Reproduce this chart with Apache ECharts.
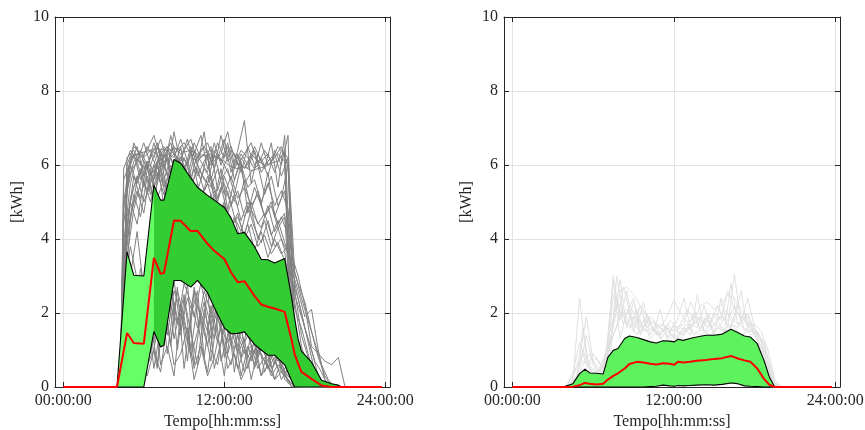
<!DOCTYPE html>
<html><head><meta charset="utf-8">
<script src="https://cdn.jsdelivr.net/npm/echarts@6/dist/echarts.min.js"></script>
<style>html,body{margin:0;padding:0;background:#fff}#c{width:865px;height:430px}</style>
</head><body><div id="c"></div>
<script>
// ---------- tick labels ----------
const xTickValues = [0, 12, 24];
const xTickLabels = ['00:00:00', '12:00:00', '24:00:00'];
const xName = 'Tempo[hh:mm:ss]';
const yName = '[kWh]';

// ---------- LEFT panel: individual days (grey) ----------
const gridA = [4.25, 4.5, 5, 5.5, 6, 6.5, 7, 7.5, 8, 8.5, 9, 9.5, 10, 10.5, 11, 11.5, 12, 12.5, 13, 13.5, 14, 14.5, 15, 15.5, 16, 16.5, 17, 17.5, 18, 18.5, 19, 19.5, 20, 20.5, 21];
const gridB = [4.35, 4.75, 5.25, 5.75, 6.25, 6.75, 7.25, 7.75, 8.25, 8.75, 9.25, 9.75, 10.25, 10.75, 11.25, 11.75, 12.25, 12.75, 13.25, 13.75, 14.25, 14.75, 15.25, 15.75, 16.25, 16.75, 17.25, 17.75, 18.25, 18.75, 19.25, 19.75, 20.25, 20.75];

const dayA1 = [0, 5.6, 6.1, 6.3, 6.2, 6.4, 6.3, 6.5, 6.2, 6.4, 6.6, 6.3, 6.2, 6.5, 6.1, 6.3, 6.0, 6.4, 6.2, 5.9, 6.3, 6.1, 6.0, 6.2, 6.3, 6.1, 0.8, 0, 0, 0, 0, 0, 0, 0, 0];
const dayA2 = [0, 4.8, 6.0, 6.5, 5.7, 6.2, 6.6, 5.9, 6.8, 6.1, 5.8, 6.5, 6.0, 6.9, 5.6, 6.2, 6.7, 5.8, 6.4, 7.2, 5.5, 6.3, 5.9, 6.6, 5.4, 6.8, 2.5, 0.4, 0, 0, 0, 0, 0, 0, 0];
const dayA3 = [0, 3.9, 5.5, 6.2, 5.9, 6.0, 5.6, 6.3, 5.8, 5.5, 6.2, 5.7, 5.3, 5.9, 5.6, 5.0, 5.7, 5.2, 4.9, 5.6, 4.8, 5.3, 4.6, 5.0, 4.4, 4.7, 1.5, 0.9, 0.3, 0, 0, 0, 0, 0, 0];
const dayA4 = [0, 3.2, 5.0, 4.4, 5.6, 5.0, 5.8, 5.2, 6.0, 5.4, 5.9, 5.0, 5.5, 4.8, 5.2, 4.6, 5.0, 4.3, 4.7, 4.0, 4.4, 3.8, 4.1, 3.6, 3.9, 3.4, 2.2, 1.2, 0.5, 0.1, 0, 0, 0, 0, 0];
const dayA5 = [0, 1.2, 2.5, 1.0, 0.4, 1.8, 0.6, 2.4, 1.1, 2.7, 0.5, 1.9, 2.6, 0.8, 2.2, 1.4, 0.3, 1.6, 0.9, 1.3, 0.2, 1.0, 0.7, 0.4, 0.9, 0.2, 0.1, 0, 0, 0, 0, 0, 0, 0, 0];
const dayA6 = [0, 0.5, 1.0, 2.0, 1.5, 0.9, 2.3, 1.2, 2.8, 1.7, 2.5, 1.0, 2.2, 1.6, 0.7, 1.9, 1.1, 0.6, 1.4, 0.9, 1.1, 0.5, 0.8, 0.3, 0.6, 0.4, 0, 0, 0, 0, 0, 0, 0, 0, 0];
const dayA7 = [0, 2.0, 4.5, 5.6, 6.0, 5.2, 6.1, 4.9, 5.8, 6.2, 5.5, 6.4, 5.7, 6.1, 6.5, 5.3, 6.0, 5.6, 6.3, 5.5, 5.8, 6.0, 5.2, 5.7, 4.9, 5.3, 3.6, 3.0, 2.2, 1.1, 0.9, 0.7, 0.6, 0.8, 0];
const dayA8 = [0, 5.0, 6.2, 6.3, 6.35, 6.4, 6.45, 6.4, 6.4, 6.45, 6.35, 6.4, 6.3, 6.25, 6.3, 6.2, 6.1, 5.95, 5.9, 5.95, 5.85, 5.9, 5.95, 6.05, 6.1, 6.35, 0.4, 0, 0, 0, 0, 0, 0, 0, 0];
const dayA9 = [0, 0.8, 3.0, 4.2, 2.6, 1.5, 3.4, 2.0, 1.2, 2.6, 1.9, 0.8, 1.5, 2.3, 1.0, 0.6, 1.8, 1.2, 0.5, 1.0, 0.7, 1.3, 0.4, 0.9, 0.5, 0.3, 0.1, 0, 0, 0, 0, 0, 0, 0, 0];
const dayA10 = [0, 4.4, 6.0, 5.5, 6.1, 5.7, 6.3, 5.6, 6.2, 5.8, 6.0, 5.4, 5.9, 5.3, 5.7, 5.1, 5.5, 4.9, 5.3, 4.6, 5.0, 4.4, 4.7, 4.1, 4.5, 3.9, 3.4, 2.8, 2.3, 1.5, 0.8, 0.3, 0, 0, 0];
const dayA11 = [0, 3.0, 4.6, 5.3, 4.7, 5.9, 5.1, 5.6, 4.8, 5.5, 4.6, 5.2, 4.4, 4.9, 4.1, 4.6, 3.8, 4.2, 3.5, 3.9, 3.2, 3.6, 2.9, 3.3, 2.6, 3.0, 2.9, 2.4, 1.6, 1.0, 0.3, 0, 0, 0, 0];
const dayA12 = [0, 0.9, 1.8, 0.7, 2.2, 1.4, 0.5, 2.0, 2.9, 1.0, 2.4, 1.5, 0.6, 2.1, 1.3, 2.5, 0.8, 1.9, 1.1, 0.4, 1.5, 0.8, 1.2, 0.5, 0.8, 0.3, 0.1, 0, 0, 0, 0, 0, 0, 0, 0];
const dayA13 = [0, 2.5, 3.8, 2.9, 1.6, 2.8, 1.4, 3.0, 2.2, 1.7, 2.8, 2.3, 1.6, 2.6, 2.0, 1.2, 2.1, 1.5, 1.9, 1.2, 1.6, 0.9, 1.3, 1.0, 0.7, 1.0, 0.4, 0.1, 0, 0, 0, 0, 0, 0, 0];
const dayA14 = [0, 5.9, 6.4, 6.1, 6.6, 6.0, 6.5, 6.2, 6.6, 6.0, 6.4, 6.7, 6.1, 6.3, 6.0, 6.6, 6.2, 6.5, 6.0, 6.3, 6.6, 6.0, 6.4, 6.1, 6.5, 6.3, 1.8, 0.3, 0, 0, 0, 0, 0, 0, 0];
const dayA15 = [0, 4.9, 5.8, 6.1, 5.4, 6.3, 5.9, 6.0, 5.5, 6.2, 5.8, 5.3, 6.0, 5.6, 5.4, 5.9, 5.2, 5.7, 5.1, 5.4, 4.9, 5.2, 4.6, 4.9, 4.3, 4.6, 3.2, 2.6, 1.9, 2.1, 1.0, 0.2, 0, 0, 0];
const dayA16 = [0, 3.6, 5.1, 5.7, 5.0, 5.5, 6.0, 5.4, 5.9, 5.1, 5.6, 4.9, 5.4, 4.7, 5.2, 4.5, 4.9, 4.3, 4.6, 4.1, 4.8, 4.0, 4.5, 3.8, 4.3, 3.7, 1.9, 0.7, 0.2, 0, 0, 0, 0, 0, 0];

const dayB1 = [0, 6.2, 6.4, 6.0, 6.5, 6.2, 6.7, 6.1, 6.5, 6.3, 6.0, 6.6, 6.2, 6.4, 5.9, 6.8, 6.1, 6.3, 5.8, 6.5, 6.0, 6.2, 5.7, 6.4, 6.0, 6.8, 0.5, 0, 0, 0, 0, 0, 0, 0];
const dayB2 = [0, 5.8, 6.3, 5.6, 6.1, 5.8, 6.4, 5.7, 6.9, 6.0, 5.5, 6.2, 5.8, 5.5, 6.3, 5.6, 5.9, 5.2, 6.0, 5.4, 5.6, 5.0, 5.5, 4.9, 5.3, 4.8, 2.8, 2.0, 1.2, 0.4, 0, 0, 0, 0];
const dayB3 = [0, 4.6, 5.4, 5.9, 5.2, 6.0, 5.5, 6.2, 5.3, 5.8, 6.1, 5.4, 5.0, 5.7, 5.2, 4.7, 5.3, 4.6, 4.2, 4.9, 4.3, 3.9, 4.5, 3.8, 4.0, 3.6, 2.1, 1.6, 0.9, 0.2, 0, 0, 0, 0];
const dayB4 = [0, 0.6, 1.4, 0.8, 2.1, 0.5, 1.6, 2.9, 1.3, 2.2, 0.7, 2.6, 1.2, 0.4, 1.8, 2.3, 0.9, 1.5, 0.3, 1.1, 0.6, 1.4, 0.5, 0.8, 0.2, 0.5, 0, 0, 0, 0, 0, 0, 0, 0];
const dayB5 = [0, 2.1, 1.5, 3.2, 2.4, 1.2, 2.7, 1.8, 2.9, 1.5, 2.4, 1.9, 2.8, 2.0, 1.3, 2.5, 1.7, 1.0, 1.9, 1.4, 0.9, 1.6, 1.0, 0.6, 1.2, 0.7, 0.2, 0, 0, 0, 0, 0, 0, 0];
const dayB6 = [0, 0.3, 0.9, 0.4, 1.2, 2.4, 0.6, 1.1, 0.3, 2.0, 1.5, 0.2, 0.9, 2.7, 0.5, 1.2, 2.0, 0.4, 1.6, 0.5, 1.3, 0.3, 1.0, 0.2, 0.7, 0.1, 0, 0, 0, 0, 0, 0, 0, 0];
const dayB7 = [0, 5.3, 6.1, 6.4, 6.0, 5.6, 6.3, 6.5, 5.9, 6.2, 5.7, 6.4, 6.1, 5.8, 6.6, 6.0, 6.5, 5.6, 6.2, 5.9, 6.4, 5.8, 6.1, 6.3, 5.7, 6.2, 3.1, 2.4, 1.8, 1.2, 0.6, 0.2, 0, 0];
const dayB8 = [0, 3.5, 4.8, 5.5, 6.0, 4.9, 6.2, 5.3, 5.9, 6.5, 5.1, 6.0, 5.6, 6.3, 5.0, 5.9, 4.8, 5.6, 6.1, 4.7, 5.4, 4.9, 5.8, 4.6, 5.1, 6.0, 2.6, 1.4, 0.8, 0.3, 0, 0, 0, 0];
const dayB9 = [0, 6.0, 6.5, 6.3, 5.9, 6.6, 6.0, 6.4, 6.2, 6.7, 6.1, 6.3, 6.8, 5.9, 6.4, 6.1, 6.6, 5.9, 6.3, 6.0, 6.5, 6.1, 6.3, 5.8, 6.4, 6.2, 1.2, 0, 0, 0, 0, 0, 0, 0];
const dayB10 = [0, 1.1, 0.5, 1.7, 0.8, 1.9, 2.6, 0.9, 2.3, 1.4, 2.8, 0.6, 2.0, 1.5, 2.4, 0.7, 1.4, 2.1, 0.8, 1.7, 0.5, 1.1, 0.7, 1.3, 0.4, 0.6, 0.1, 0, 0, 0, 0, 0, 0, 0];
const dayB11 = [0, 1.6, 2.8, 1.2, 0.6, 1.0, 2.0, 1.4, 2.6, 2.1, 1.2, 2.7, 1.8, 1.1, 2.2, 1.6, 1.2, 1.8, 1.3, 0.8, 1.2, 0.9, 0.5, 1.1, 0.6, 0.3, 0.1, 0, 0, 0, 0, 0, 0, 0];
const dayB12 = [0, 5.5, 6.6, 6.2, 6.4, 6.8, 6.2, 6.5, 6.3, 6.1, 6.7, 6.0, 6.4, 6.6, 6.1, 6.3, 6.9, 6.0, 6.4, 6.2, 5.9, 6.6, 6.0, 6.2, 6.5, 6.0, 0.9, 0, 0, 0, 0, 0, 0, 0];
const dayB13 = [0, 4.0, 5.2, 4.6, 5.7, 5.1, 5.9, 4.8, 5.6, 5.2, 4.7, 5.5, 4.5, 5.1, 4.4, 4.9, 4.1, 4.6, 3.9, 4.4, 3.7, 4.2, 3.5, 4.0, 3.6, 3.8, 2.5, 1.9, 1.3, 0.7, 0.4, 0, 0, 0];
const dayB14 = [0, 0.4, 0.2, 0.7, 0.3, 1.0, 0.4, 1.8, 0.6, 0.9, 1.6, 0.5, 1.1, 0.3, 0.8, 1.7, 0.5, 0.9, 0.2, 0.6, 1.0, 0.3, 0.6, 0.2, 0.4, 0.2, 0, 0, 0, 0, 0, 0, 0, 0];
const dayB15 = [0, 4.3, 5.7, 5.1, 6.1, 5.4, 5.8, 6.3, 5.2, 5.7, 5.3, 5.9, 5.1, 5.5, 4.9, 5.4, 4.7, 5.2, 4.5, 5.0, 4.6, 4.3, 4.9, 4.2, 4.6, 4.1, 2.3, 1.1, 0.5, 0, 0, 0, 0, 0];

// ---------- LEFT panel: band (low / high) and median ----------
const bandT_L = [0, 4.0, 4.75, 5.25, 6.0, 6.75, 7.25, 7.5, 8.25, 8.75, 9.5, 10.0, 10.75, 11.25, 12.0, 12.5, 13.0, 13.5, 14.25, 14.75, 15.25, 15.75, 16.5, 17.0, 17.25, 17.5, 17.75, 18.5, 19.25, 20.0, 20.5, 20.75, 23.75];
const bandHi_L = [0, 0, 3.65, 3.02, 3.0, 5.45, 5.05, 5.05, 6.15, 6.05, 5.65, 5.4, 5.18, 5.05, 4.85, 4.57, 4.14, 4.18, 3.8, 3.45, 3.44, 3.35, 3.47, 2.45, 1.85, 1.3, 0.97, 0.67, 0.18, 0.09, 0.05, 0, 0];
const bandLo_L = [0, 0, 0, 0, 0, 1.5, 1.08, 1.13, 2.88, 2.88, 2.7, 2.88, 2.55, 2.15, 1.6, 1.44, 1.45, 1.49, 1.15, 1.0, 0.86, 0.86, 0.6, 0.18, 0, 0, 0, 0, 0, 0, 0, 0, 0];
const median_L = [0, 0, 1.46, 1.19, 1.17, 3.49, 3.06, 3.08, 4.5, 4.49, 4.21, 4.22, 3.87, 3.68, 3.46, 3.1, 2.83, 2.86, 2.46, 2.23, 2.17, 2.12, 2.03, 1.3, 0.88, 0.63, 0.41, 0.22, 0.04, 0, 0, 0, 0];
const lightSplitTime = 6.75;

// ---------- RIGHT panel: individual days (light grey) ----------
const gridRA = [4, 4.5, 5, 5.5, 6, 6.5, 7, 7.5, 8, 8.5, 9, 9.5, 10, 10.5, 11, 11.5, 12, 12.5, 13, 13.5, 14, 14.5, 15, 15.5, 16, 16.5, 17, 17.5, 18, 18.5, 19, 19.5, 20];
const gridRB = [4.25, 4.75, 5.25, 5.75, 6.25, 6.75, 7.25, 7.75, 8.25, 8.75, 9.25, 9.75, 10.25, 10.75, 11.25, 11.75, 12.25, 12.75, 13.25, 13.75, 14.25, 14.75, 15.25, 15.75, 16.25, 16.75, 17.25, 17.75, 18.25, 18.75, 19.25, 19.75];
const dayR1 = [0, 0.2, 2.4, 0.8, 0.3, 0.5, 1.0, 3.0, 1.8, 2.6, 1.5, 2.2, 1.6, 1.8, 1.4, 1.6, 1.3, 1.5, 1.7, 1.4, 1.6, 1.9, 1.5, 1.7, 2.0, 1.6, 1.4, 1.5, 1.5, 1.3, 0.8, 0.1, 0];
const dayR2 = [0, 0, 0.1, 0.3, 0.4, 0.3, 0.9, 1.6, 2.6, 2.7, 2.5, 2.2, 1.9, 1.7, 1.6, 1.9, 2.35, 2.0, 1.75, 1.85, 2.2, 2.3, 2.1, 2.2, 2.5, 2.4, 2.1, 1.9, 1.6, 1.2, 0.5, 0, 0];
const dayR3 = [0, 0.4, 1.2, 0.6, 0.5, 0.4, 0.8, 2.9, 1.3, 2.0, 2.4, 1.4, 1.9, 1.5, 2.1, 1.3, 1.7, 1.4, 1.6, 2.0, 1.5, 1.8, 1.4, 2.4, 1.6, 3.05, 1.7, 2.0, 1.4, 1.1, 0.4, 0, 0];
const dayR4 = [0, 0.1, 0.5, 1.4, 0.6, 0.4, 0.5, 1.8, 2.9, 1.6, 2.3, 1.7, 1.5, 1.6, 1.3, 1.5, 1.4, 1.3, 1.6, 1.5, 1.4, 1.5, 1.7, 1.6, 1.5, 1.8, 2.6, 1.5, 1.6, 0.9, 0.3, 0, 0];
const dayR8 = [0, 0.3, 0.8, 1.9, 0.7, 0.5, 0.6, 2.5, 2.2, 1.7, 1.9, 1.6, 2.0, 1.5, 1.7, 1.6, 1.5, 1.7, 2.1, 1.8, 1.6, 2.0, 1.7, 1.9, 1.8, 2.2, 1.8, 2.4, 1.6, 1.3, 0.6, 0.1, 0];
const dayR10 = [0, 0.1, 0.4, 0.5, 0.9, 0.6, 0.7, 1.4, 1.9, 2.1, 1.7, 1.5, 1.8, 1.6, 1.4, 1.7, 1.5, 1.6, 1.5, 1.7, 1.9, 1.6, 2.0, 1.8, 2.6, 2.1, 1.9, 1.7, 1.7, 1.5, 1.0, 0.2, 0];
const dayR5 = [0, 0.3, 1.0, 0.5, 0.4, 0.6, 1.5, 2.2, 1.9, 1.6, 2.1, 1.5, 1.7, 1.4, 1.6, 1.5, 1.8, 2.4, 1.6, 1.9, 1.5, 1.7, 2.2, 1.8, 1.6, 2.3, 1.5, 1.7, 1.3, 0.7, 0.1, 0];
const dayR6 = [0, 0.1, 1.6, 0.4, 0.3, 0.5, 0.7, 3.0, 2.0, 1.7, 1.4, 1.8, 1.3, 1.5, 1.2, 1.4, 1.3, 1.6, 1.4, 2.5, 1.5, 1.4, 1.6, 1.5, 2.8, 1.7, 1.6, 1.4, 1.5, 1.0, 0.2, 0];
const dayR7 = [0, 0.2, 0.6, 0.9, 0.5, 0.4, 1.2, 1.6, 2.7, 2.0, 1.6, 2.3, 1.4, 1.7, 1.5, 1.3, 1.5, 1.4, 1.7, 1.6, 2.2, 1.6, 1.8, 1.5, 1.7, 1.6, 2.0, 1.6, 1.2, 0.6, 0, 0];
const dayR9 = [0, 0.5, 0.7, 0.6, 0.8, 0.5, 1.1, 2.4, 1.7, 2.2, 1.8, 1.6, 1.9, 1.7, 1.5, 1.8, 1.6, 1.7, 2.3, 1.9, 1.7, 2.0, 1.8, 2.1, 1.9, 1.7, 1.9, 1.5, 1.4, 1.2, 0.3, 0];

// ---------- RIGHT panel: band and median ----------
const bandT_R = [0, 3.75, 4.5, 5.0, 5.4, 5.75, 6.25, 6.75, 7.1, 7.5, 7.85, 8.35, 8.7, 9.25, 9.75, 10.25, 10.7, 11.2, 11.7, 12.05, 12.3, 12.7, 13.2, 13.7, 14.4, 15.0, 15.6, 16.25, 16.75, 17.25, 17.7, 18.2, 18.7, 19.1, 19.5, 23.75];
const bandHi_R = [0, 0, 0.09, 0.36, 0.48, 0.38, 0.37, 0.35, 0.8, 0.99, 1.04, 1.31, 1.38, 1.34, 1.28, 1.22, 1.19, 1.25, 1.24, 1.22, 1.29, 1.26, 1.31, 1.35, 1.40, 1.40, 1.43, 1.56, 1.47, 1.38, 1.35, 1.17, 0.72, 0.27, 0, 0];
const bandLo_R = [0, 0, 0, 0, 0, 0, 0, 0, 0, 0, 0, 0, 0, 0, 0, 0.01, 0.02, 0.05, 0.03, 0.02, 0.04, 0.03, 0.04, 0.05, 0.06, 0.05, 0.07, 0.11, 0.09, 0.03, 0.02, 0.01, 0, 0, 0, 0];
const median_R = [0, 0, 0.01, 0.05, 0.11, 0.09, 0.07, 0.09, 0.2, 0.3, 0.37, 0.5, 0.62, 0.68, 0.66, 0.63, 0.61, 0.64, 0.63, 0.6, 0.68, 0.66, 0.68, 0.71, 0.73, 0.76, 0.78, 0.84, 0.77, 0.72, 0.68, 0.5, 0.22, 0.06, 0, 0];

// ---------- styling ----------
const FONT = '"Liberation Serif", "DejaVu Serif", serif';
const AX = '#262626';
const GRID = '#e3e3e3';
const X_MIN = -0.62, X_MAX = 24.35;

const zip = (xs, ys) => xs.map((x, i) => [x, ys[i]]);

function xAxesFor(gi) {
  return [
    { gridIndex: gi, type: 'value', min: X_MIN, max: X_MAX, position: 'bottom',
      axisLine: { show: true, onZero: false, lineStyle: { color: AX, width: 1 } },
      axisTick: { show: true, inside: true, length: 5, customValues: xTickValues, lineStyle: { color: AX } },
      axisLabel: { customValues: xTickValues, formatter: v => xTickLabels[xTickValues.indexOf(v)],
                   color: AX, fontFamily: FONT, fontSize: 16, margin: 6 },
      splitLine: { show: true, lineStyle: { color: GRID, width: 1 } },
      name: xName, nameLocation: 'middle', nameGap: 22,
      nameTextStyle: { color: AX, fontFamily: FONT, fontSize: 16 } },
    { gridIndex: gi, type: 'value', min: X_MIN, max: X_MAX, position: 'top',
      axisLine: { show: true, onZero: false, lineStyle: { color: AX, width: 1 } },
      axisTick: { show: true, inside: true, length: 5, customValues: xTickValues, lineStyle: { color: AX } },
      axisLabel: { show: false }, splitLine: { show: false } }
  ];
}
function yAxesFor(gi) {
  return [
    { gridIndex: gi, type: 'value', min: 0, max: 10, interval: 2, position: 'left',
      axisLine: { show: true, onZero: false, lineStyle: { color: AX, width: 1 } },
      axisTick: { show: true, inside: true, length: 5, lineStyle: { color: AX } },
      axisLabel: { color: AX, fontFamily: FONT, fontSize: 16, margin: 6 },
      splitLine: { show: true, lineStyle: { color: GRID, width: 1 } },
      name: yName, nameLocation: 'middle', nameGap: 29,
      nameTextStyle: { color: AX, fontFamily: FONT, fontSize: 16 } },
    { gridIndex: gi, type: 'value', min: 0, max: 10, interval: 2, position: 'right',
      axisLine: { show: true, onZero: false, lineStyle: { color: AX, width: 1 } },
      axisTick: { show: true, inside: true, length: 5, lineStyle: { color: AX } },
      axisLabel: { show: false }, splitLine: { show: false } }
  ];
}

function traceSeries(xs, ys, xi, yi, color, w) {
  return { type: 'line', xAxisIndex: xi, yAxisIndex: yi, data: zip(xs, ys), showSymbol: false,
           symbol: 'none', silent: true, z: 1, lineStyle: { color: color, width: w } };
}
function lineSeries(xs, ys, xi, yi, color, w, z) {
  return { type: 'line', xAxisIndex: xi, yAxisIndex: yi, data: zip(xs, ys), showSymbol: false,
           symbol: 'none', silent: true, z: z, lineStyle: { color: color, width: w } };
}
function bandSeries(T, lo, hi, xi, yi, color, fromIdx, toIdx, z) {
  return {
    type: 'custom', xAxisIndex: xi, yAxisIndex: yi, silent: true, z: z,
    data: T.map((t, i) => [t, lo[i], hi[i]]),
    encode: { x: 0, y: [1, 2] },
    renderItem: function (params, api) {
      if (params.dataIndexInside !== 0) return;
      const pts = [];
      for (let i = fromIdx; i <= toIdx; i++) pts.push(api.coord([T[i], hi[i]]));
      for (let i = toIdx; i >= fromIdx; i--) pts.push(api.coord([T[i], lo[i]]));
      return { type: 'polygon', shape: { points: pts }, style: { fill: color, stroke: null } };
    }
  };
}

const series = [];
const leftA = [dayA1, dayA2, dayA3, dayA4, dayA5, dayA6, dayA7, dayA8, dayA9, dayA10, dayA11, dayA12, dayA13, dayA14, dayA15, dayA16];
const leftB = [dayB1, dayB2, dayB3, dayB4, dayB5, dayB6, dayB7, dayB8, dayB9, dayB10, dayB11, dayB12, dayB13, dayB14, dayB15];
leftA.forEach(d => series.push(traceSeries(gridA, d, 0, 0, '#808080', 1)));
leftB.forEach(d => series.push(traceSeries(gridB, d, 0, 0, '#808080', 1)));
const splitIdx = bandT_L.indexOf(lightSplitTime);
series.push(bandSeries(bandT_L, bandLo_L, bandHi_L, 0, 0, '#66ff66', 1, splitIdx, 2));
series.push(bandSeries(bandT_L, bandLo_L, bandHi_L, 0, 0, '#33cc33', splitIdx, bandT_L.length - 2, 3));
series.push(lineSeries(bandT_L, bandHi_L, 0, 0, '#000000', 1.1, 4));
series.push(lineSeries(bandT_L, bandLo_L, 0, 0, '#000000', 1.1, 4));
series.push(lineSeries(bandT_L, median_L, 0, 0, '#ff0000', 2, 5));

[dayR1, dayR2, dayR3, dayR4, dayR8, dayR10].forEach(d => series.push(traceSeries(gridRA, d, 2, 2, '#e0e0e0', 1)));
[dayR5, dayR6, dayR7, dayR9].forEach(d => series.push(traceSeries(gridRB, d, 2, 2, '#e0e0e0', 1)));
series.push(bandSeries(bandT_R, bandLo_R, bandHi_R, 2, 2, '#5ef25e', 1, bandT_R.length - 2, 2));
series.push(lineSeries(bandT_R, bandHi_R, 2, 2, '#000000', 1.1, 4));
series.push(lineSeries(bandT_R, bandLo_R, 2, 2, '#000000', 1.1, 4));
series.push(lineSeries(bandT_R, median_R, 2, 2, '#ff0000', 2, 5));

const chart = echarts.init(document.getElementById('c'), null, { renderer: 'canvas' });
chart.setOption({
  animation: false,
  backgroundColor: '#ffffff',
  grid: [
    { left: 55, top: 17, width: 335, height: 370, outerBoundsMode: 'none', containLabel: false },
    { left: 504, top: 17, width: 336, height: 370, outerBoundsMode: 'none', containLabel: false }
  ],
  xAxis: [...xAxesFor(0), ...xAxesFor(1)],
  yAxis: [...yAxesFor(0), ...yAxesFor(1)],
  series: series
});
</script></body></html>
